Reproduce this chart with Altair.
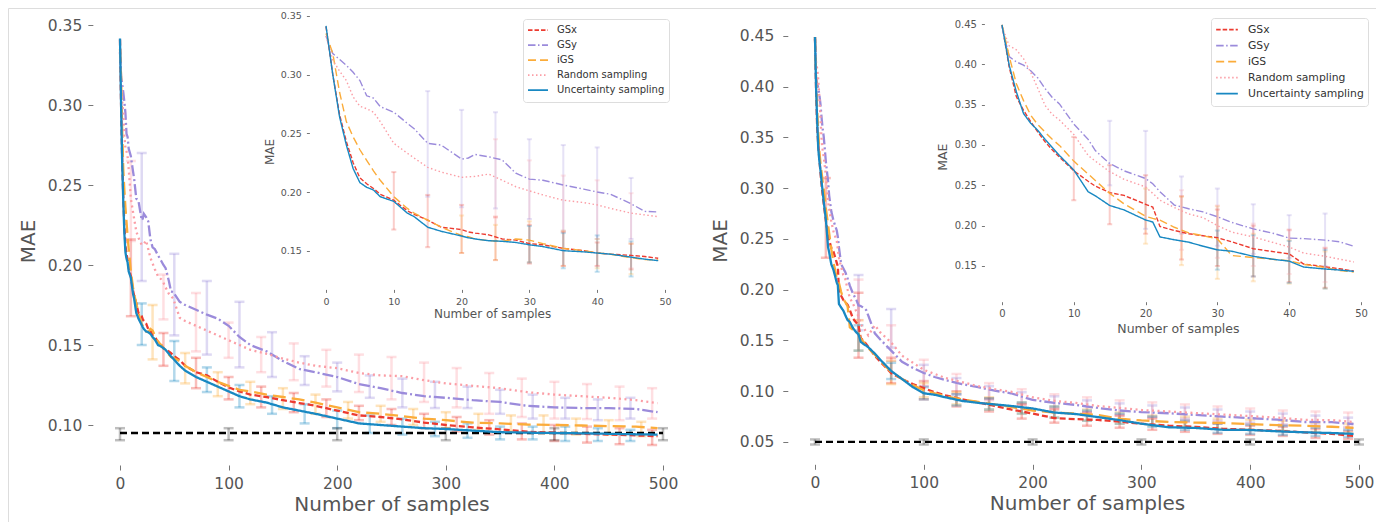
import altair as alt
import pandas as pd

SERIES = ["GSx", "GSy", "iGS", "Random sampling", "Uncertainty sampling"]
COLORS = ["#ec3b30", "#9b8bdb", "#fbac3a", "#fb9ea6", "#1888c2"]

# ---------- inset x grid (first 50 samples) ----------
G = [0, 1, 2, 3, 4, 5, 6, 7, 8, 10, 12, 13, 15, 17, 20, 21, 22, 24, 26, 28, 30, 32, 35, 38, 40, 42, 45, 47, 49]
# ---------- main x grid (after 50 samples) ----------
M = [55, 60, 70, 80, 90, 100, 110, 120, 135, 150, 165, 180, 200, 220, 240, 260, 280, 300, 325, 350, 375, 400, 425, 450, 475, 495]

# ===== LEFT panel =====
LI_GSX = [0.341, 0.300, 0.266, 0.243, 0.225, 0.212, 0.207, 0.203, 0.198, 0.193, 0.184, 0.181, 0.176, 0.170, 0.168, 0.166, 0.165, 0.1635, 0.160, 0.159, 0.156, 0.155, 0.152, 0.150, 0.148, 0.147, 0.146, 0.145, 0.1435]
LI_GSY = [0.333, 0.318, 0.313, 0.308, 0.302, 0.295, 0.282, 0.280, 0.2727, 0.268, 0.2585, 0.254, 0.2415, 0.240, 0.228, 0.229, 0.232, 0.230, 0.2273, 0.216, 0.211, 0.210, 0.206, 0.2025, 0.200, 0.198, 0.190, 0.1835, 0.183]
LI_IGS = [0.335, 0.318, 0.285, 0.260, 0.247, 0.236, 0.227, 0.218, 0.210, 0.196, 0.186, 0.182, 0.176, 0.170, 0.163, 0.162, 0.160, 0.1585, 0.158, 0.160, 0.159, 0.156, 0.152, 0.150, 0.148, 0.147, 0.144, 0.1425, 0.142]
LI_RND = [0.333, 0.3125, 0.303, 0.295, 0.281, 0.273, 0.271, 0.268, 0.260, 0.2415, 0.233, 0.229, 0.221, 0.217, 0.2125, 0.213, 0.2133, 0.2153, 0.210, 0.2045, 0.201, 0.1975, 0.193, 0.191, 0.189, 0.186, 0.182, 0.1805, 0.179]
LI_UNC = [0.3415, 0.300, 0.264, 0.240, 0.220, 0.208, 0.204, 0.2017, 0.196, 0.192, 0.182, 0.179, 0.170, 0.1665, 0.1625, 0.161, 0.160, 0.1585, 0.158, 0.157, 0.155, 0.1535, 0.150, 0.149, 0.148, 0.147, 0.1445, 0.1428, 0.1415]

LM_GSX = [0.1406, 0.137, 0.133, 0.131, 0.127, 0.1235, 0.121, 0.119, 0.1175, 0.1155, 0.1137, 0.112, 0.109, 0.106, 0.105, 0.1035, 0.1015, 0.100, 0.0985, 0.0973, 0.0958, 0.0952, 0.0945, 0.094, 0.0935, 0.093]
LM_GSY = [0.177, 0.175, 0.172, 0.169, 0.1665, 0.162, 0.155, 0.150, 0.146, 0.140, 0.135, 0.133, 0.130, 0.1256, 0.123, 0.120, 0.118, 0.117, 0.1155, 0.1144, 0.112, 0.111, 0.1106, 0.1106, 0.110, 0.108]
LM_IGS = [0.140, 0.137, 0.133, 0.130, 0.127, 0.1245, 0.122, 0.121, 0.119, 0.1175, 0.116, 0.114, 0.111, 0.108, 0.107, 0.1055, 0.104, 0.103, 0.1015, 0.101, 0.1003, 0.100, 0.0997, 0.0993, 0.099, 0.098]
LM_RND = [0.167, 0.165, 0.162, 0.159, 0.156, 0.153, 0.150, 0.147, 0.1445, 0.1415, 0.139, 0.137, 0.1355, 0.1325, 0.131, 0.1305, 0.128, 0.126, 0.1245, 0.123, 0.1205, 0.119, 0.118, 0.117, 0.1155, 0.1137]
LM_UNC = [0.137, 0.134, 0.130, 0.127, 0.124, 0.121, 0.118, 0.116, 0.114, 0.111, 0.109, 0.107, 0.104, 0.101, 0.100, 0.099, 0.098, 0.0975, 0.0965, 0.0955, 0.0952, 0.095, 0.0948, 0.0945, 0.0942, 0.094]

# left main error bars
LM_EB_XA = [10, 40, 70, 100, 130, 160, 190, 220, 250, 280, 310, 340, 370, 400, 430, 460, 490]
LM_EB_XB = [20, 50, 80, 110, 140, 170, 200, 230, 260, 290, 320, 350, 380, 410, 440, 470]
LM_EB_XC = [30, 60, 90, 120, 150, 180, 210, 240, 270, 300, 330, 360, 390, 420, 450, 480]
LM_GSX_LO = [0.168, 0.137, 0.123, 0.116, 0.111, 0.108, 0.105, 0.103, 0.100, 0.098, 0.096, 0.094, 0.091, 0.090, 0.089, 0.088, 0.0875]
LM_GSX_HI = [0.216, 0.1575, 0.142, 0.130, 0.124, 0.120, 0.116, 0.112, 0.110, 0.107, 0.105, 0.103, 0.101, 0.100, 0.099, 0.098, 0.097]
LM_RND_LO = [0.215, 0.166, 0.146, 0.142, 0.133, 0.128, 0.124, 0.1206, 0.116, 0.1144, 0.111, 0.107, 0.105, 0.104, 0.1037, 0.103, 0.104]
LM_RND_HI = [0.265, 0.194, 0.1825, 0.164, 0.155, 0.151, 0.147, 0.144, 0.1425, 0.139, 0.1356, 0.1325, 0.129, 0.127, 0.1256, 0.124, 0.123]
LM_GSY_LO = [0.19, 0.156, 0.144, 0.136, 0.13, 0.125, 0.121, 0.117, 0.111, 0.1106, 0.1106, 0.107, 0.104, 0.104, 0.103, 0.104]
LM_GSY_HI = [0.27, 0.207, 0.19, 0.177, 0.158, 0.143, 0.139, 0.131, 0.129, 0.127, 0.124, 0.122, 0.119, 0.117, 0.116, 0.117]
LM_UNC_LO = [0.150, 0.1275, 0.1206, 0.111, 0.107, 0.101, 0.098, 0.095, 0.094, 0.093, 0.092, 0.091, 0.091, 0.090, 0.090, 0.090]
LM_UNC_HI = [0.176, 0.1525, 0.136, 0.125, 0.118, 0.113, 0.109, 0.106, 0.104, 0.102, 0.101, 0.099, 0.099, 0.099, 0.098, 0.097]
LM_IGS_LO = [0.141, 0.126, 0.118, 0.113, 0.110, 0.107, 0.104, 0.102, 0.100, 0.098, 0.097, 0.096, 0.095, 0.094, 0.094, 0.093]
LM_IGS_HI = [0.175, 0.145, 0.133, 0.127, 0.123, 0.119, 0.1144, 0.112, 0.110, 0.108, 0.107, 0.106, 0.106, 0.104, 0.103, 0.102]

# left inset error bars
LI_EB_X_GSX = [10, 15, 20, 25, 30, 35, 40, 45]
LI_GSX_LO = [0.168, 0.153, 0.148, 0.142, 0.139, 0.137, 0.137, 0.134]
LI_GSX_HI = [0.217, 0.1975, 0.189, 0.179, 0.172, 0.166, 0.157, 0.156]
LI_EB_X_GSY = [15, 20, 25, 30, 35, 40, 45]
LI_GSY_LO = [0.196, 0.187, 0.186, 0.177, 0.167, 0.160, 0.160]
LI_GSY_HI = [0.286, 0.270, 0.268, 0.245, 0.240, 0.238, 0.212]
LI_EB_X_IGS = [20, 25, 30, 35, 40, 45]
LI_IGS_LO = [0.148, 0.142, 0.140, 0.137, 0.135, 0.130]
LI_IGS_HI = [0.180, 0.172, 0.175, 0.167, 0.160, 0.156]
LI_EB_X_RND = [25, 30, 35, 40, 45]
LI_RND_LO = [0.178, 0.140, 0.137, 0.137, 0.135]
LI_RND_HI = [0.245, 0.227, 0.214, 0.210, 0.199]
LI_EB_X_UNC = [30, 35, 40, 45]
LI_UNC_LO = [0.140, 0.135, 0.132, 0.128]
LI_UNC_HI = [0.171, 0.165, 0.163, 0.158]

LEFT_BASE_X = [0, 500]
LEFT_BASE_Y = [0.095, 0.095]
LEFT_BASE_EB_X = [0, 100, 200, 300, 400, 500]
LEFT_BASE_LO = [0.0905, 0.0905, 0.0905, 0.0905, 0.0905, 0.0905]
LEFT_BASE_HI = [0.098, 0.098, 0.098, 0.098, 0.098, 0.098]

# ===== RIGHT panel =====
RI_GSX = [0.449, 0.397, 0.360, 0.343, 0.329, 0.316, 0.304, 0.294, 0.285, 0.268, 0.255, 0.249, 0.241, 0.2375, 0.2265, 0.223, 0.199, 0.194, 0.190, 0.1875, 0.185, 0.180, 0.1714, 0.1675, 0.165, 0.1525, 0.149, 0.1466, 0.1437]
RI_GSY = [0.447, 0.4095, 0.403, 0.399, 0.392, 0.383, 0.370, 0.359, 0.351, 0.326, 0.307, 0.293, 0.277, 0.268, 0.2584, 0.252, 0.242, 0.2255, 0.221, 0.217, 0.211, 0.204, 0.196, 0.190, 0.1845, 0.184, 0.182, 0.180, 0.1744]
RI_IGS = [0.449, 0.410, 0.376, 0.355, 0.337, 0.325, 0.316, 0.307, 0.2995, 0.280, 0.264, 0.256, 0.240, 0.227, 0.2116, 0.209, 0.2067, 0.198, 0.191, 0.1875, 0.1835, 0.163, 0.1605, 0.158, 0.1565, 0.152, 0.148, 0.1445, 0.1425]
RI_RND = [0.447, 0.423, 0.418, 0.407, 0.390, 0.370, 0.349, 0.338, 0.331, 0.313, 0.287, 0.280, 0.267, 0.2575, 0.248, 0.240, 0.2315, 0.2225, 0.2145, 0.210, 0.200, 0.192, 0.186, 0.1785, 0.1735, 0.166, 0.162, 0.1585, 0.155]
RI_UNC = [0.449, 0.399, 0.366, 0.339, 0.327, 0.318, 0.307, 0.297, 0.287, 0.269, 0.242, 0.237, 0.225, 0.2195, 0.207, 0.2045, 0.186, 0.1825, 0.1795, 0.1745, 0.170, 0.1683, 0.162, 0.158, 0.156, 0.1487, 0.1462, 0.145, 0.1433]

RM_GSX = [0.135, 0.129, 0.118, 0.112, 0.107, 0.103, 0.099, 0.096, 0.092, 0.089, 0.0855, 0.082, 0.078, 0.0735, 0.0725, 0.0717, 0.070, 0.068, 0.066, 0.0648, 0.063, 0.062, 0.061, 0.0595, 0.058, 0.056]
RM_GSY = [0.157, 0.151, 0.140, 0.129, 0.123, 0.118, 0.114, 0.111, 0.107, 0.104, 0.1005, 0.098, 0.0915, 0.0885, 0.0865, 0.0835, 0.081, 0.0795, 0.0783, 0.0766, 0.075, 0.0735, 0.072, 0.0697, 0.0695, 0.0677]
RM_IGS = [0.136, 0.130, 0.119, 0.112, 0.106, 0.101, 0.098, 0.095, 0.092, 0.0895, 0.087, 0.0845, 0.081, 0.079, 0.078, 0.0766, 0.073, 0.0712, 0.0697, 0.069, 0.0688, 0.0675, 0.0665, 0.066, 0.065, 0.0638]
RM_RND = [0.165, 0.158, 0.148, 0.135, 0.128, 0.121, 0.117, 0.113, 0.109, 0.105, 0.102, 0.0995, 0.094, 0.0905, 0.0885, 0.0855, 0.0835, 0.0815, 0.080, 0.0785, 0.077, 0.0755, 0.074, 0.0718, 0.0715, 0.0697]
RM_UNC = [0.137, 0.131, 0.120, 0.112, 0.104, 0.098, 0.0965, 0.094, 0.0905, 0.0885, 0.087, 0.0855, 0.083, 0.079, 0.0775, 0.0745, 0.0715, 0.068, 0.0645, 0.0638, 0.062, 0.0618, 0.0605, 0.0595, 0.0588, 0.058]

RM_EB_X_GSX = [10, 40, 70, 100, 130, 160, 190, 220, 250, 280, 310, 340, 370, 400, 430, 460, 490]
RM_GSX_LO = [0.2315, 0.133, 0.108, 0.092, 0.085, 0.080, 0.073, 0.069, 0.066, 0.064, 0.062, 0.060, 0.058, 0.057, 0.056, 0.054, 0.053]
RM_GSX_HI = [0.31, 0.197, 0.133, 0.110, 0.100, 0.093, 0.087, 0.082, 0.079, 0.076, 0.073, 0.070, 0.068, 0.066, 0.065, 0.063, 0.061]
RM_EB_X = [40, 70, 100, 130, 160, 190, 220, 250, 280, 310, 340, 370, 400, 430, 460, 490]
RM_GSY_LO = [0.16, 0.143, 0.105, 0.097, 0.092, 0.088, 0.084, 0.080, 0.077, 0.075, 0.073, 0.071, 0.069, 0.067, 0.066, 0.064]
RM_GSY_HI = [0.2145, 0.181, 0.126, 0.113, 0.105, 0.099, 0.095, 0.091, 0.088, 0.086, 0.084, 0.082, 0.080, 0.078, 0.076, 0.074]
RM_RND_LO = [0.17, 0.13, 0.105, 0.097, 0.091, 0.087, 0.083, 0.079, 0.076, 0.074, 0.072, 0.070, 0.068, 0.067, 0.066, 0.065]
RM_RND_HI = [0.21, 0.165, 0.131, 0.117, 0.108, 0.102, 0.097, 0.094, 0.091, 0.089, 0.087, 0.085, 0.083, 0.081, 0.080, 0.079]
RM_UNC_LO = [0.14, 0.112, 0.092, 0.086, 0.082, 0.078, 0.074, 0.071, 0.068, 0.065, 0.062, 0.059, 0.058, 0.057, 0.056, 0.055]
RM_UNC_HI = [0.165, 0.128, 0.104, 0.097, 0.093, 0.089, 0.085, 0.081, 0.078, 0.075, 0.071, 0.068, 0.067, 0.066, 0.064, 0.062]
RM_IGS_LO = [0.14, 0.107, 0.094, 0.087, 0.082, 0.078, 0.074, 0.071, 0.068, 0.066, 0.065, 0.063, 0.062, 0.061, 0.060, 0.059]
RM_IGS_HI = [0.17, 0.13, 0.108, 0.099, 0.094, 0.089, 0.085, 0.082, 0.079, 0.076, 0.075, 0.073, 0.072, 0.071, 0.069, 0.068]

RI_EB_X_GSX = [10, 15, 20, 25, 30, 35, 40, 45]
RI_GSX_LO = [0.2315, 0.2017, 0.19, 0.158, 0.15, 0.137, 0.13, 0.123]
RI_GSX_HI = [0.31, 0.275, 0.2625, 0.2365, 0.22, 0.2, 0.195, 0.172]
RI_EB_X_GSY = [15, 20, 25, 30, 35, 40, 45]
RI_GSY_LO = [0.25, 0.196, 0.19, 0.175, 0.165, 0.16, 0.15]
RI_GSY_HI = [0.33, 0.3175, 0.261, 0.246, 0.2265, 0.213, 0.215]
RI_EB_X_IGS = [20, 25, 30, 35, 40, 45]
RI_IGS_LO = [0.1776, 0.151, 0.134, 0.131, 0.128, 0.122]
RI_IGS_HI = [0.246, 0.236, 0.224, 0.19, 0.182, 0.168]
RI_EB_X_RND = [25, 30, 35, 40, 45]
RI_RND_LO = [0.17, 0.16, 0.15, 0.14, 0.13]
RI_RND_HI = [0.244, 0.225, 0.2025, 0.194, 0.173]
RI_EB_X_UNC = [30, 35, 40, 45]
RI_UNC_LO = [0.1454, 0.137, 0.129, 0.122]
RI_UNC_HI = [0.194, 0.188, 0.181, 0.17]

RIGHT_BASE_X = [0, 500]
RIGHT_BASE_Y = [0.05, 0.05]
RIGHT_BASE_EB_X = [0, 100, 200, 300, 400, 500]
RIGHT_BASE_LO = [0.0475, 0.0475, 0.0475, 0.0475, 0.0475, 0.0475]
RIGHT_BASE_HI = [0.0525, 0.0525, 0.0525, 0.0525, 0.0525, 0.0525]

X_TICKS_MAIN = [0, 100, 200, 300, 400, 500]
X_TICKS_INSET = [0, 10, 20, 30, 40, 50]
Y_TICKS_LM = [0.10, 0.15, 0.20, 0.25, 0.30, 0.35]
Y_TICKS_LI = [0.15, 0.20, 0.25, 0.30, 0.35]
Y_TICKS_RM = [0.05, 0.10, 0.15, 0.20, 0.25, 0.30, 0.35, 0.40, 0.45]
Y_TICKS_RI = [0.15, 0.20, 0.25, 0.30, 0.35, 0.40, 0.45]

FONT = "DejaVu Sans"
TXT = "#555555"
W, H = 1368, 514


def lines_df(xs, ys_list):
    rows = []
    for name, ys in zip(SERIES, ys_list):
        for x, y in zip(xs, ys):
            rows.append({"x": x, "y": y, "series": name})
    return pd.DataFrame(rows)


def err_df(items):
    rows = []
    for name, xs, lo, hi in items:
        for x, a, b in zip(xs, lo, hi):
            rows.append({"x": x, "lo": a, "hi": b, "series": name})
    return pd.DataFrame(rows)


def x_axis(values, fs, tfs, offset, tick, lpad, tpad):
    return alt.Axis(values=values, title="Number of samples", orient="bottom", offset=offset,
                    domain=False, grid=False, ticks=True, tickSize=tick, tickColor="#777777",
                    tickWidth=1, labelFontSize=fs, labelFont=FONT, labelColor=TXT,
                    titleFont=FONT, titleFontSize=tfs, titleColor=TXT, titleFontWeight="normal",
                    labelPadding=lpad, titlePadding=tpad, labelFlush=False, labelOverlap=False,
                    format="d")


def y_axis(values, fs, tfs, offset, tick, lpad, tpad):
    return alt.Axis(values=values, title="MAE", orient="left", offset=offset,
                    domain=False, grid=False, ticks=True, tickSize=tick, tickColor="#777777",
                    tickWidth=1, labelFontSize=fs, labelFont=FONT, labelColor=TXT,
                    titleFont=FONT, titleFontSize=tfs, titleColor=TXT, titleFontWeight="normal",
                    labelPadding=lpad, titlePadding=tpad, labelFlush=False, labelOverlap=False,
                    format=".2f")


def panel(ldf, edf, bx, by, bex, blo, bhi, xs, ys, xa, ya, dashes, lw, ebw, cap, legend, ebop):
    X = lambda f: alt.X(f, scale=xs, axis=xa)
    Y = lambda f: alt.Y(f, scale=ys, axis=ya)
    layers = []
    if edf is not None:
        # error bars coloured through stroke / fill channels so that the line legend stays on
        layers.append(alt.Chart(edf).mark_rule(strokeWidth=ebw, opacity=ebop).encode(
            x=X("x:Q"), y=Y("lo:Q"), y2="hi:Q",
            stroke=alt.Stroke("series:N", scale=alt.Scale(domain=SERIES, range=COLORS), legend=None)))
        for f in ["lo:Q", "hi:Q"]:
            layers.append(alt.Chart(edf).mark_tick(orient="horizontal", size=cap, thickness=ebw, opacity=ebop).encode(
                x=X("x:Q"), y=Y(f),
                fill=alt.Fill("series:N", scale=alt.Scale(domain=SERIES, range=COLORS), legend=None)))
    if bx is not None:
        bdf = pd.DataFrame({"x": bex, "lo": blo, "hi": bhi})
        layers.append(alt.Chart(bdf).mark_rule(strokeWidth=ebw, opacity=0.25, color="black").encode(
            x=X("x:Q"), y=Y("lo:Q"), y2="hi:Q"))
        for f in ["lo:Q", "hi:Q"]:
            layers.append(alt.Chart(bdf).mark_tick(orient="horizontal", size=cap, thickness=ebw, opacity=0.25, color="black").encode(
                x=X("x:Q"), y=Y(f)))
        layers.append(alt.Chart(pd.DataFrame({"x": bx, "y": by})).mark_line(
            color="black", strokeWidth=2.3, strokeDash=[7, 4]).encode(x=X("x:Q"), y=Y("y:Q")))
    layers.append(alt.Chart(ldf).mark_line(strokeWidth=lw).encode(
        x=X("x:Q"), y=Y("y:Q"),
        color=alt.Color("series:N", scale=alt.Scale(domain=SERIES, range=COLORS), legend=legend),
        strokeDash=alt.StrokeDash("series:N", scale=alt.Scale(domain=SERIES, range=dashes), legend=legend)))
    return alt.layer(*layers)


def legend_at(lx, ly, fs, size, clip, offset):
    return alt.Legend(orient="none", legendX=lx, legendY=ly, title=None, symbolType="stroke",
                      symbolSize=size, symbolStrokeWidth=1.6, symbolOpacity=1, labelFontSize=fs,
                      labelFont=FONT, labelColor="#333333", fillColor="white", strokeColor="#dddddd",
                      cornerRadius=3, padding=4, clipHeight=clip, rowPadding=0, labelOffset=offset)


MAIN_DASH = [[6, 3], [11, 3, 2, 3], [13, 6], [2, 3.5], [1, 0]]
INSET_DASH = [[4.5, 2], [7.5, 2.5, 1.5, 2.5], [8, 4], [1.5, 2.5], [1, 0]]

# ---------- left main ----------
lm_lines = lines_df(G + M, [LI_GSX + LM_GSX, LI_GSY + LM_GSY, LI_IGS + LM_IGS, LI_RND + LM_RND, LI_UNC + LM_UNC])
lm_err = err_df([("GSx", LM_EB_XA, LM_GSX_LO, LM_GSX_HI), ("Random sampling", LM_EB_XA, LM_RND_LO, LM_RND_HI),
                 ("GSy", LM_EB_XB, LM_GSY_LO, LM_GSY_HI), ("Uncertainty sampling", LM_EB_XB, LM_UNC_LO, LM_UNC_HI),
                 ("iGS", LM_EB_XC, LM_IGS_LO, LM_IGS_HI)])
left_main = panel(lm_lines, lm_err, LEFT_BASE_X, LEFT_BASE_Y, LEFT_BASE_EB_X, LEFT_BASE_LO, LEFT_BASE_HI,
                  alt.Scale(domain=[-25, 525], range=[84.85, 682.15], nice=False, zero=False),
                  alt.Scale(domain=[0.075, 0.355], range=[457, 9], nice=False, zero=False),
                  x_axis(X_TICKS_MAIN, 15.5, 20, 457 - H, 5, 6, 3),
                  y_axis(Y_TICKS_LM, 15.5, 20, -84.85, 5, 6, 9),
                  MAIN_DASH, 2.3, 2.5, 10, None, 0.33)

# ---------- left inset ----------
li_lines = lines_df(G, [LI_GSX, LI_GSY, LI_IGS, LI_RND, LI_UNC])
li_err = err_df([("GSx", LI_EB_X_GSX, LI_GSX_LO, LI_GSX_HI), ("GSy", LI_EB_X_GSY, LI_GSY_LO, LI_GSY_HI),
                 ("iGS", LI_EB_X_IGS, LI_IGS_LO, LI_IGS_HI), ("Random sampling", LI_EB_X_RND, LI_RND_LO, LI_RND_HI),
                 ("Uncertainty sampling", LI_EB_X_UNC, LI_UNC_LO, LI_UNC_HI)])
left_inset = panel(li_lines, li_err, None, None, None, None, None,
                   alt.Scale(domain=[-2.45, 51.45], range=[301.4, 666.8], nice=False, zero=False),
                   alt.Scale(domain=[0.117, 0.352], range=[281.4, 5.65], nice=False, zero=False),
                   x_axis(X_TICKS_INSET, 9.5, 12, 281.4 - H, 3, 4, 3),
                   y_axis(Y_TICKS_LI, 9.5, 12, -301.4, 3, 5, 4),
                   INSET_DASH, 1.4, 2, 5, legend_at(515, 11, 10, 400, 14.3, 8), 0.25)

# ---------- right main ----------
rm_lines = lines_df(G + M, [RI_GSX + RM_GSX, RI_GSY + RM_GSY, RI_IGS + RM_IGS, RI_RND + RM_RND, RI_UNC + RM_UNC])
rm_err = err_df([("GSx", RM_EB_X_GSX, RM_GSX_LO, RM_GSX_HI), ("GSy", RM_EB_X, RM_GSY_LO, RM_GSY_HI),
                 ("iGS", RM_EB_X, RM_IGS_LO, RM_IGS_HI), ("Random sampling", RM_EB_X, RM_RND_LO, RM_RND_HI),
                 ("Uncertainty sampling", RM_EB_X, RM_UNC_LO, RM_UNC_HI)])
right_main = panel(rm_lines, rm_err, RIGHT_BASE_X, RIGHT_BASE_Y, RIGHT_BASE_EB_X, RIGHT_BASE_LO, RIGHT_BASE_HI,
                   alt.Scale(domain=[-25, 525], range=[779.8, 1378.2], nice=False, zero=False),
                   alt.Scale(domain=[0.028, 0.469], range=[456.3, 8.7], nice=False, zero=False),
                   x_axis(X_TICKS_MAIN, 15.5, 20, 456.3 - H, 5, 6, 3),
                   y_axis(Y_TICKS_RM, 15.5, 20, -779.8, 5, 9, 9),
                   MAIN_DASH, 2.3, 2.5, 10, None, 0.33)

# ---------- right inset ----------
ri_lines = lines_df(G, [RI_GSX, RI_GSY, RI_IGS, RI_RND, RI_UNC])
ri_err = err_df([("GSx", RI_EB_X_GSX, RI_GSX_LO, RI_GSX_HI), ("GSy", RI_EB_X_GSY, RI_GSY_LO, RI_GSY_HI),
                 ("iGS", RI_EB_X_IGS, RI_IGS_LO, RI_IGS_HI), ("Random sampling", RI_EB_X_RND, RI_RND_LO, RI_RND_HI),
                 ("Uncertainty sampling", RI_EB_X_UNC, RI_UNC_LO, RI_UNC_HI)])
right_inset = panel(ri_lines, ri_err, None, None, None, None, None,
                    alt.Scale(domain=[-2.45, 51.45], range=[976.4, 1363.4], nice=False, zero=False),
                    alt.Scale(domain=[0.1057, 0.4654], range=[293.7, 3.6], nice=False, zero=False),
                    x_axis(X_TICKS_INSET, 10, 12.5, 293.7 - H, 3, 4, 4),
                    y_axis(Y_TICKS_RI, 10, 12.5, -976.4, 3, 5, 5),
                    INSET_DASH, 1.4, 2, 5, legend_at(1203, 10, 10.8, 470, 15.2, 9), 0.25)

chart = alt.layer(left_main, left_inset, right_main, right_inset).resolve_scale(
    x="independent", y="independent", color="independent", strokeDash="independent"
).properties(
    width=W, height=H, autosize=alt.AutoSizeParams(type="none"), padding=0
).configure_view(stroke=None).configure(background="white")

chart.save("out.html", embed_options={"renderer": "svg", "actions": False})
